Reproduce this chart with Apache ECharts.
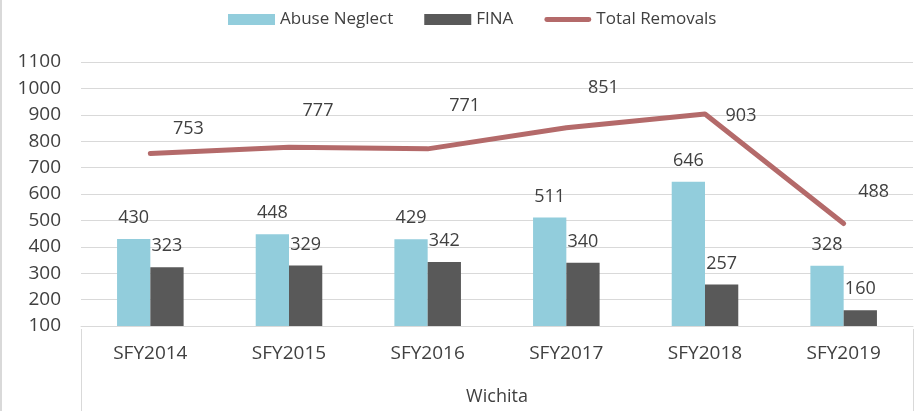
<!DOCTYPE html>
<html>
<head>
<meta charset="utf-8">
<script src="https://cdn.jsdelivr.net/npm/echarts@6/dist/echarts.min.js"></script>
<style>
  html, body { margin: 0; padding: 0; background: #fff; }
  #chart { width: 921px; height: 411px; }
</style>
</head>
<body>
<div id="chart"></div>
<script>
var categories = ['SFY2014', 'SFY2015', 'SFY2016', 'SFY2017', 'SFY2018', 'SFY2019']
var abuseNeglect = [430, 448, 429, 511, 646, 328]
var fina = [323, 329, 342, 340, 257, 160]
var totalRemovals = [753, 777, 771, 851, 903, 488]
var yTicks = { min: 100, max: 1100, interval: 100 }

// hand-placed line labels, offset from the point (px)
var lineLabelOffsets = [[38, -25], [29, -36], [37, -43], [37, -40], [36, 2], [30, -32]]

var TEXT_COLOR = '#404040'
var GRID_COLOR = '#d9d9d9'
var LINE_COLOR = '#b46a6a'
var FONT = '"Open Sans", sans-serif'

var chart = echarts.init(document.getElementById('chart'))

var lineData = totalRemovals.map(function (v, i) {
  return { value: v, label: { offset: lineLabelOffsets[i] } }
})

chart.setOption({
  animation: false,
  backgroundColor: '#fff',
  textStyle: { fontFamily: FONT, color: TEXT_COLOR },
  legend: {
    left: 223,
    top: 6,
    itemWidth: 47,
    itemHeight: 11,
    itemGap: 31,
    symbolKeepAspect: true,
    textStyle: { fontSize: 17, color: TEXT_COLOR, fontFamily: FONT },
    data: [
      { name: 'Abuse Neglect', icon: 'rect' },
      { name: 'FINA', icon: 'rect' },
      { name: 'Total Removals', icon: 'path://M2,0 L45,0 A2.5,2.5 0 0 1 45,5 L2,5 A2.5,2.5 0 0 1 2,0 Z', itemStyle: { color: LINE_COLOR } }
    ]
  },
  grid: {
    left: 81,
    right: 8,
    top: 62,
    bottom: 82
  },
  xAxis: {
    type: 'category',
    data: categories,
    name: 'Wichita',
    nameLocation: 'middle',
    nameGap: 62,
    nameTextStyle: { fontSize: 18, color: TEXT_COLOR, verticalAlign: 'top' },
    axisLine: { lineStyle: { color: GRID_COLOR, width: 1 } },
    axisTick: { show: false },
    axisLabel: { fontSize: 19, color: TEXT_COLOR, margin: 18 }
  },
  yAxis: {
    type: 'value',
    min: yTicks.min,
    max: yTicks.max,
    interval: yTicks.interval,
    axisLine: { show: false },
    axisTick: { show: false },
    axisLabel: {
      fontSize: 19,
      color: TEXT_COLOR,
      margin: 20,
      formatter: function (v) { return String(v) }
    },
    splitLine: { lineStyle: { color: GRID_COLOR, width: 1 } }
  },
  series: [
    {
      name: 'Abuse Neglect',
      type: 'bar',
      data: abuseNeglect,
      barGap: '0%',
      barCategoryGap: '52%',
      itemStyle: { color: '#92cddc' },
      label: { show: true, position: 'top', distance: 12, fontSize: 18, color: TEXT_COLOR }
    },
    {
      name: 'FINA',
      type: 'bar',
      data: fina,
      itemStyle: { color: '#595959' },
      label: { show: true, position: 'top', distance: 12, fontSize: 18, color: TEXT_COLOR }
    },
    {
      name: 'Total Removals',
      type: 'line',
      data: lineData,
      symbol: 'circle',
      symbolSize: 2,
      lineStyle: { color: LINE_COLOR, width: 5, cap: 'round', join: 'round' },
      itemStyle: { color: LINE_COLOR },
      label: { show: true, position: 'inside', fontSize: 18, color: TEXT_COLOR }
    }
  ],
  graphic: [
    { type: 'line', shape: { x1: 1, y1: 0, x2: 1, y2: 411 }, style: { stroke: GRID_COLOR, lineWidth: 2 } },
    { type: 'line', shape: { x1: 81.5, y1: 329, x2: 81.5, y2: 411 }, style: { stroke: GRID_COLOR, lineWidth: 1 } },
    { type: 'line', shape: { x1: 913.5, y1: 329, x2: 913.5, y2: 411 }, style: { stroke: GRID_COLOR, lineWidth: 1 } }
  ]
})
</script>
</body>
</html>
